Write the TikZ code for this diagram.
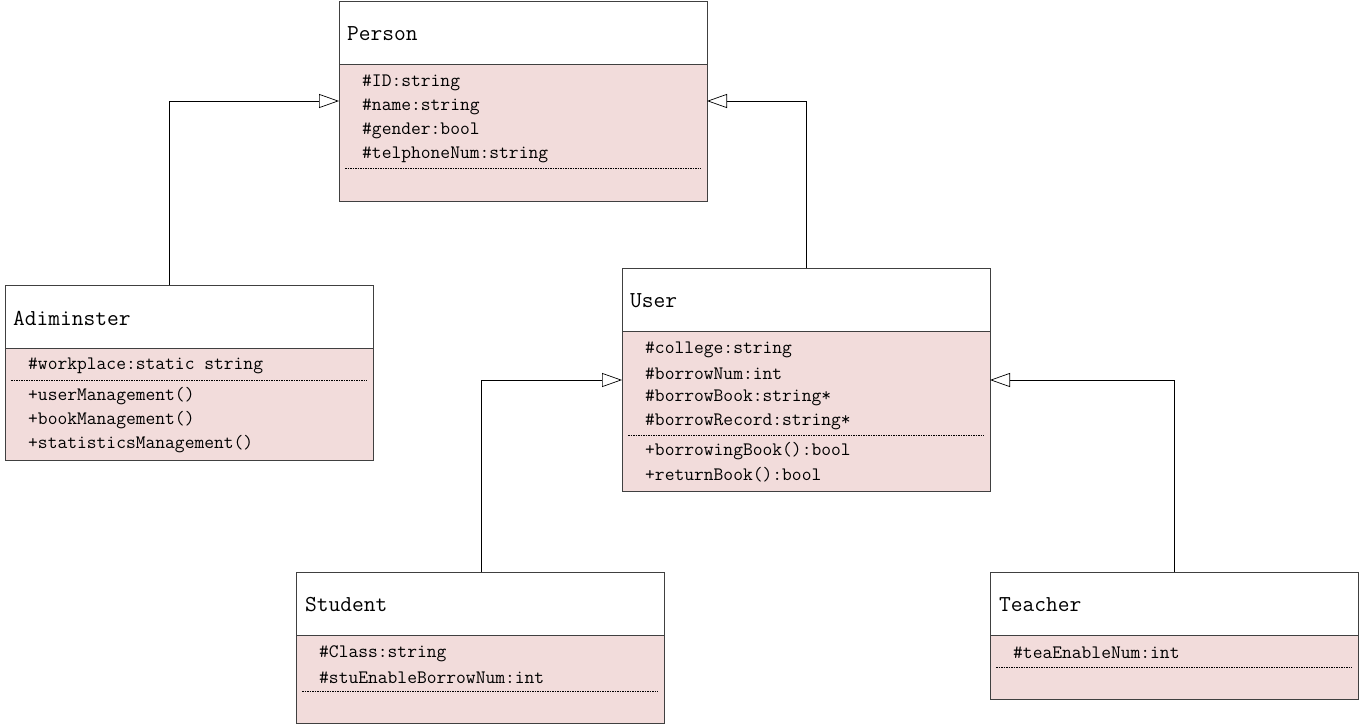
\documentclass[tikz,border=0pt]{standalone}
\usepackage{fontspec}
\usetikzlibrary{arrows.meta}
\definecolor{linec}{HTML}{404040}
\definecolor{bodyc}{HTML}{F2DCDB}
\begin{document}
\begin{tikzpicture}[x=1pt,y=-1pt,
  hdr/.style={rectangle,draw=linec,fill=white,line width=0.8pt,minimum width=368pt,inner sep=0pt,anchor=north west},
  body/.style={rectangle,draw=linec,fill=bodyc,line width=0.8pt,minimum width=368pt,inner sep=0pt,anchor=north west},
  title/.style={font=\ttfamily\fontsize{22.8}{26}\selectfont,anchor=west,inner sep=0pt},
  attr/.style={font=\ttfamily\fontsize{19}{22}\selectfont,anchor=west,inner sep=0pt},
  sepline/.style={line width=0.8pt,dash pattern=on 1.5pt off 1pt},
  inh/.style={draw=black,line width=0.7pt,-{Triangle[open,length=20pt,width=14pt,fill=white]}}
]
\useasboundingbox (0,0) rectangle (1360,725);

% Person
\node[hdr,minimum height=63pt] (personH) at (339,1) {};
\node[body,minimum height=137pt] (personB) at (339,64) {};
\node[title] (personT) at (347,34) {Person};
\node[attr] (p1) at (362,83) {\#ID:string};
\node[attr] (p2) at (362,107) {\#name:string};
\node[attr] (p3) at (362,131) {\#gender:bool};
\node[attr] (p4) at (362,155) {\#telphoneNum:string};
\draw[sepline] (345,168) -- (701,168);

% Adiminster
\node[hdr,minimum height=63pt] (admH) at (5,285) {};
\node[body,minimum height=112pt] (admB) at (5,348) {};
\node[title] (admT) at (13,318) {Adiminster};
\node[attr] (a1) at (28,366) {\#workplace:static string};
\draw[sepline] (11,380) -- (367,380);
\node[attr] (a2) at (28,396) {+userManagement()};
\node[attr] (a3) at (28,420) {+bookManagement()};
\node[attr] (a4) at (28,444) {+statisticsManagement()};

% User
\node[hdr,minimum height=63pt] (userH) at (622,268) {};
\node[body,minimum height=160pt] (userB) at (622,331) {};
\node[title] (userT) at (630,301) {User};
\node[attr] (u1) at (645,350) {\#college:string};
\node[attr] (u2) at (645,374) {\#borrowNum:int};
\node[attr] (u3) at (645,398) {\#borrowBook:string*};
\node[attr] (u4) at (645,422) {\#borrowRecord:string*};
\draw[sepline] (628,435) -- (984,435);
\node[attr] (u5) at (645,451) {+borrowingBook():bool};
\node[attr] (u6) at (645,475) {+returnBook():bool};

% Student
\node[hdr,minimum height=63pt] (stuH) at (296,572) {};
\node[body,minimum height=88pt] (stuB) at (296,635) {};
\node[title] (stuT) at (305,605) {Student};
\node[attr] (s1) at (319,654) {\#Class:string};
\node[attr] (s2) at (319,678) {\#stuEnableBorrowNum:int};
\draw[sepline] (302,691) -- (658,691);

% Teacher
\node[hdr,minimum height=63pt] (teaH) at (990,572) {};
\node[body,minimum height=64pt] (teaB) at (990,635) {};
\node[title] (teaT) at (999,605) {Teacher};
\node[attr] (t1) at (1013,653) {\#teaEnableNum:int};
\draw[sepline] (996,667) -- (1352,667);

% connector end points
\coordinate (personL) at (339,101);
\coordinate (personR) at (707,101);
\coordinate (userL) at (622,380);
\coordinate (userR) at (990,380);
\coordinate (admTop) at (169,285);
\coordinate (userTop) at (806,268);
\coordinate (stuTop) at (481,572);
\coordinate (teaTop) at (1174,572);

\draw[inh] (admTop) |- (personL);
\draw[inh] (userTop) |- (personR);
\draw[inh] (stuTop) |- (userL);
\draw[inh] (teaTop) |- (userR);
\end{tikzpicture}
\end{document}
